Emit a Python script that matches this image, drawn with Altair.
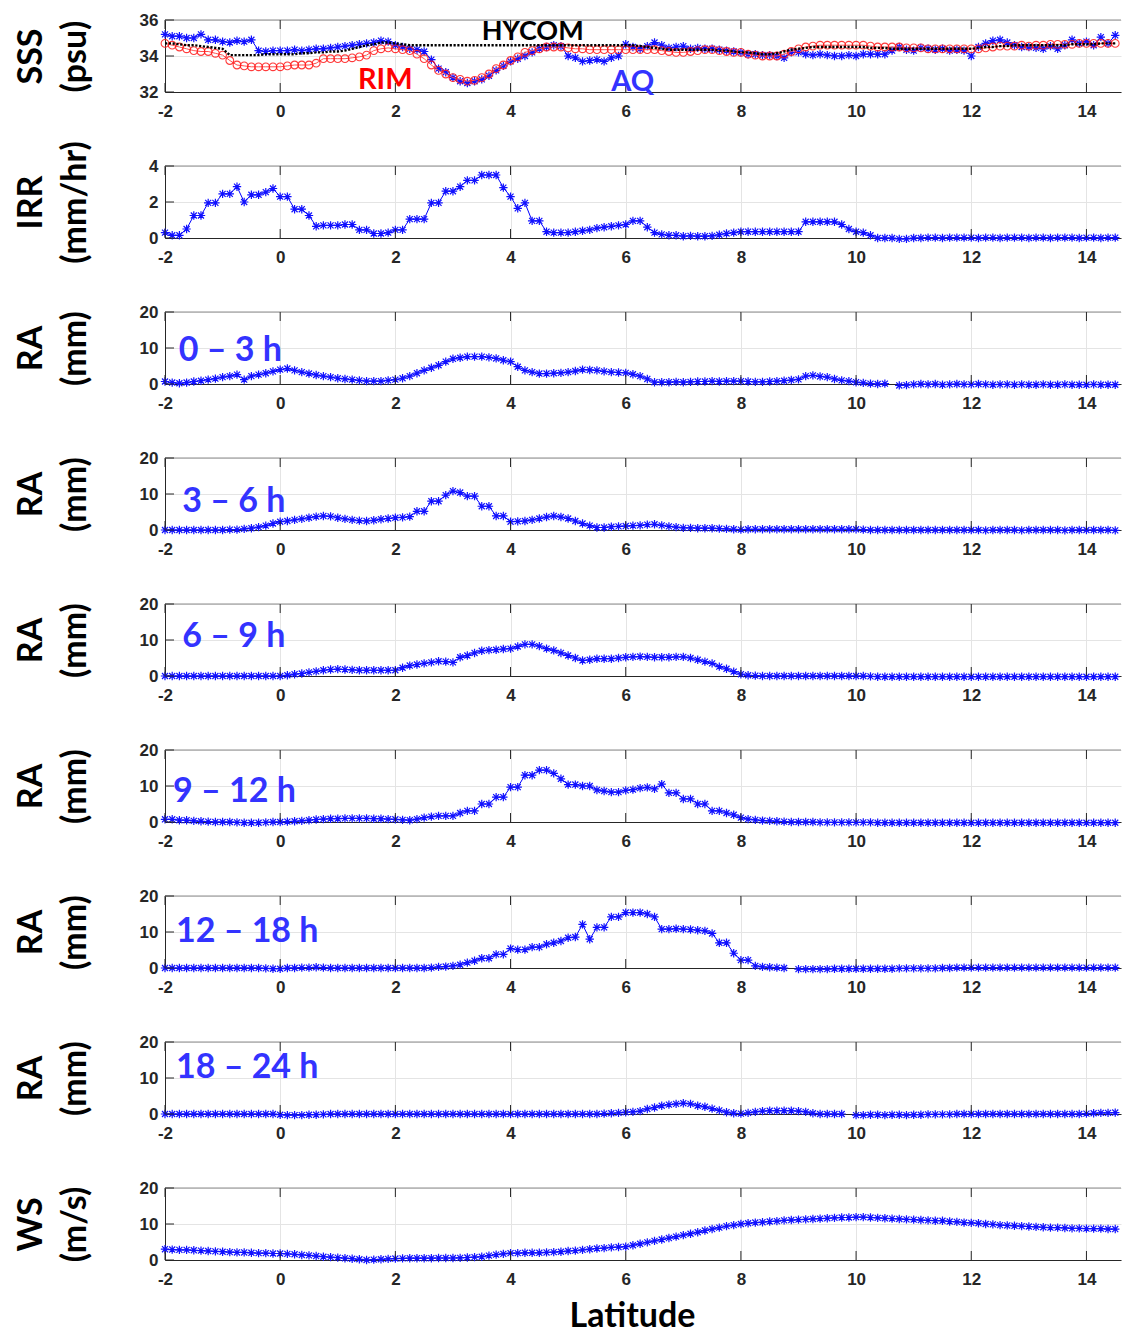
import altair as alt
import pandas as pd

# Latitude sampling of all series: starts at -2, every 0.125 degree
LAT0 = -2.0
DLAT = 0.125
XMAX = 14.6
XTICKS = [-2, 0, 2, 4, 6, 8, 10, 12, 14]

SSS_AQ = [
    35.2, 35.1, 35.1, 35.0, 35.0, 35.2, 34.9, 34.9, 34.8, 34.75, 34.85, 34.8, 34.9, 34.3, 34.25, 34.3,
    34.3, 34.3, 34.35, 34.3, 34.35, 34.4, 34.4, 34.45, 34.5, 34.55, 34.6, 34.65, 34.7, 34.75, 34.85, 34.8,
    34.6, 34.5, 34.4, 34.35, 34.25, 33.8, 33.3, 33.1, 32.8, 32.6, 32.5, 32.6, 32.7, 32.9, 33.2, 33.45,
    33.7, 33.85, 34.0, 34.2, 34.4, 34.5, 34.6, 34.55, 34.0, 33.9, 33.7, 33.75, 33.8, 33.7, 33.9, 34.0,
    34.65, 34.5, 34.4, 34.55, 34.75, 34.6, 34.45, 34.5, 34.55, 34.4, 34.45, 34.4, 34.4, 34.35, 34.3, 34.25,
    34.2, 34.1, 34.1, 34.05, 34.05, 34.0, 33.9, 34.2, 34.2, 34.1, 34.05, 34.1, 34.05, 34.0, 34.0, 34.05,
    34.0, 34.1, 34.1, 34.1, 34.1, 34.3, 34.5, 34.35, 34.3, 34.45, 34.4, 34.35, 34.4, 34.3, 34.35, 34.3,
    34.0, 34.5, 34.7, 34.85, 34.9, 34.75, 34.6, 34.5, 34.5, 34.45, 34.4, 34.55, 34.4, 34.6, 34.9, 34.7,
    34.8, 34.6, 35.05, 34.7, 35.15, 34.9, 34.8,
]
SSS_RIM = [
    34.7, 34.6, 34.5, 34.4, 34.3, 34.25, 34.25, 34.15, 34.05, 33.75, 33.5, 33.45, 33.4, 33.4, 33.4, 33.4,
    33.4, 33.45, 33.5, 33.5, 33.5, 33.6, 33.85, 33.85, 33.85, 33.85, 33.9, 33.95, 34.05, 34.3, 34.4, 34.45,
    34.4, 34.35, 34.3, 34.1, 33.85, 33.5, 33.2, 33.0, 32.8, 32.7, 32.6, 32.65, 32.8, 33.0, 33.3, 33.5,
    33.75, 33.95, 34.2, 34.3, 34.4, 34.5, 34.5, 34.5, 34.45, 34.4, 34.4, 34.35, 34.35, 34.35, 34.35, 34.35,
    34.35, 34.35, 34.35, 34.35, 34.35, 34.3, 34.25, 34.2, 34.2, 34.25, 34.3, 34.35, 34.35, 34.3, 34.25, 34.2,
    34.2, 34.1, 34.05, 34.0, 34.0, 34.0, 34.1, 34.25, 34.4, 34.5, 34.55, 34.6, 34.6, 34.6, 34.6, 34.6,
    34.6, 34.6, 34.55, 34.5, 34.5, 34.5, 34.5, 34.45, 34.45, 34.45, 34.4, 34.4, 34.4, 34.4, 34.4, 34.4,
    34.4, 34.4, 34.45, 34.5, 34.55, 34.55, 34.55, 34.6, 34.55, 34.6, 34.6, 34.65, 34.65, 34.65, 34.65, 34.7,
    34.7, 34.7, 34.7, 34.7, 34.7, 34.7, 34.7,
]
SSS_HYCOM = [
    34.7, 34.7, 34.65, 34.6, 34.6, 34.55, 34.5, 34.45, 34.4, 34.05, 34.05, 34.05, 34.05, 34.05, 34.1, 34.1,
    34.1, 34.1, 34.1, 34.15, 34.15, 34.2, 34.2, 34.25, 34.25, 34.3, 34.4, 34.5, 34.6, 34.65, 34.75, 34.75,
    34.7, 34.65, 34.6, 34.6, 34.6, 34.6, 34.6, 34.6, 34.6, 34.6, 34.6, 34.6, 34.6, 34.6, 34.6, 34.6,
    34.6, 34.6, 34.6, 34.6, 34.6, 34.6, 34.6, 34.6, 34.6, 34.6, 34.6, 34.6, 34.6, 34.6, 34.6, 34.6,
    34.6, 34.6, 34.55, 34.5, 34.45, 34.4, 34.35, 34.35, 34.35, 34.35, 34.35, 34.35, 34.35, 34.3, 34.3, 34.25,
    34.2, 34.2, 34.15, 34.1, 34.1, 34.15, 34.25, 34.35, 34.4, 34.45, 34.5, 34.5, 34.5, 34.5, 34.5, 34.5,
    34.5, 34.5, 34.45, 34.45, 34.45, 34.4, 34.4, 34.4, 34.4, 34.4, 34.4, 34.4, 34.4, 34.4, 34.4, 34.4,
    34.4, 34.45, 34.5, 34.5, 34.55, 34.55, 34.6, 34.6, 34.6, 34.6, 34.6, 34.6, 34.6, 34.6, 34.65, 34.65,
    34.65, 34.65, 34.7, 34.7, 34.7, 34.7, 34.7,
]
IRR = [
    0.3, 0.15, 0.15, 0.5, 1.25, 1.25, 1.95, 1.95, 2.45, 2.45, 2.85, 2.0, 2.4, 2.4, 2.55, 2.75,
    2.3, 2.3, 1.6, 1.6, 1.25, 0.65, 0.7, 0.7, 0.7, 0.75, 0.75, 0.45, 0.45, 0.25, 0.25, 0.3,
    0.45, 0.45, 1.05, 1.05, 1.05, 1.95, 1.95, 2.6, 2.6, 2.85, 3.2, 3.2, 3.5, 3.5, 3.5, 2.8,
    2.3, 1.65, 1.95, 0.95, 0.95, 0.35, 0.3, 0.3, 0.3, 0.35, 0.4, 0.45, 0.55, 0.6, 0.65, 0.7,
    0.75, 0.95, 0.95, 0.6, 0.3, 0.2, 0.15, 0.15, 0.1, 0.12, 0.1, 0.1, 0.12, 0.18, 0.25, 0.3,
    0.35, 0.35, 0.35, 0.35, 0.35, 0.35, 0.35, 0.35, 0.35, 0.9, 0.9, 0.9, 0.9, 0.9, 0.75, 0.5,
    0.35, 0.3, 0.15, 0.0, 0.0, 0.0, -0.05, -0.05, 0.0, 0.0, 0.02, 0.02, 0.0, 0.02, 0.02, 0.02,
    0.02, 0.0, 0.02, 0.02, 0.0, 0.02, 0.02, 0.02, 0.0, 0.02, 0.02, 0.0, 0.02, 0.02, 0.02, 0.0,
    0.02, 0.02, 0.0, 0.02, 0.02, 0.02, 0.0,
]
RA_0_3 = [
    0.7, 0.4, 0.2, 0.4, 0.7, 0.9, 1.2, 1.5, 1.9, 2.2, 2.6, 1.2, 2.2, 2.6, 3.0, 3.5,
    4.0, 4.3, 3.8, 3.3, 2.9, 2.5, 2.2, 1.9, 1.6, 1.4, 1.2, 1.0, 0.8, 0.8, 0.8, 1.0,
    1.2, 1.6, 2.2, 3.0, 3.8, 4.5, 5.2, 6.2, 7.0, 7.3, 7.6, 7.6, 7.6, 7.4, 7.1, 6.6,
    6.2, 4.8, 3.8, 3.3, 2.9, 2.9, 3.0, 3.1, 3.3, 3.6, 4.0, 3.9, 3.8, 3.5, 3.3, 3.2,
    3.1, 2.7, 2.2, 1.4, 0.5, 0.5, 0.5, 0.6, 0.5, 0.6, 0.7, 0.7, 0.8, 0.7, 0.8, 0.8,
    0.8, 0.7, 0.6, 0.6, 0.7, 0.8, 0.9, 1.1, 1.3, 2.2, 2.4, 2.1, 1.9, 1.4, 1.0, 0.8,
    0.5, 0.3, 0.1, 0.0, 0.1, None, -0.4, -0.3, -0.1, 0.0, -0.1, 0.0, -0.2, -0.1, 0.0, -0.1,
    -0.1, 0.0, -0.1, -0.2, -0.1, -0.1, -0.2, -0.1, -0.2, -0.2, -0.1, -0.2, -0.2, -0.1, -0.2, -0.2,
    -0.2, -0.1, -0.2, -0.2, -0.2, -0.2, -0.2,
]
RA_3_6 = [
    0.0, 0.0, 0.0, 0.0, 0.0, 0.0, 0.0, 0.0, 0.0, 0.1, 0.1, 0.3, 0.5, 0.8, 1.2, 1.8,
    2.3, 2.5, 2.8, 3.1, 3.4, 3.7, 3.9, 3.8, 3.4, 3.1, 2.8, 2.6, 2.5, 2.7, 3.0, 3.2,
    3.4, 3.5, 3.7, 5.2, 5.2, 8.0, 8.0, 9.7, 10.8, 10.4, 9.4, 9.4, 6.6, 6.6, 3.9, 3.9,
    2.3, 2.4, 2.5, 2.8, 3.2, 3.6, 3.9, 3.6, 3.2, 2.5, 1.8, 1.2, 0.7, 0.7, 0.9, 1.0,
    1.1, 1.2, 1.3, 1.5, 1.6, 1.3, 1.0, 0.8, 0.6, 0.6, 0.5, 0.5, 0.5, 0.4, 0.3, 0.2,
    0.1, 0.2, 0.2, 0.2, 0.2, 0.2, 0.2, 0.2, 0.2, 0.2, 0.2, 0.2, 0.2, 0.2, 0.2, 0.2,
    0.2, 0.1, 0.0, 0.0, 0.0, 0.0, 0.0, 0.0, 0.0, 0.0, 0.0, 0.0, 0.0, 0.0, 0.0, 0.0,
    0.0, 0.0, -0.1, 0.0, 0.0, 0.0, 0.0, -0.1, 0.0, 0.0, 0.0, 0.0, 0.0, -0.1, 0.0, 0.0,
    0.0, 0.0, 0.0, 0.0, -0.1, 0.0, 0.0,
]
RA_6_9 = [
    0.0, 0.0, 0.0, 0.0, 0.0, 0.0, 0.0, 0.0, 0.0, 0.0, 0.0, 0.0, 0.0, 0.0, 0.0, 0.0,
    0.0, 0.2, 0.5, 0.7, 1.0, 1.3, 1.6, 1.8, 1.9, 1.8, 1.7, 1.6, 1.6, 1.6, 1.6, 1.6,
    1.6, 2.3, 2.9, 3.2, 3.5, 3.8, 4.1, 4.0, 3.8, 5.2, 5.7, 6.4, 7.0, 7.2, 7.3, 7.5,
    7.6, 8.2, 8.8, 8.8, 8.3, 7.6, 7.1, 6.4, 5.7, 5.0, 4.3, 4.5, 4.8, 4.8, 4.8, 5.0,
    5.2, 5.3, 5.4, 5.3, 5.2, 5.2, 5.2, 5.3, 5.3, 5.0, 4.5, 4.0, 3.5, 2.6, 2.0, 1.2,
    0.5, 0.2, 0.1, 0.0, 0.0, 0.0, 0.0, 0.0, 0.0, 0.0, 0.0, 0.0, 0.0, 0.0, 0.0, 0.0,
    0.0, 0.0, -0.1, -0.2, -0.2, -0.2, -0.2, -0.2, -0.2, -0.2, -0.2, -0.2, -0.2, -0.2, -0.2, -0.2,
    -0.2, -0.2, -0.2, -0.2, -0.2, -0.2, -0.2, -0.2, -0.2, -0.2, -0.2, -0.2, -0.2, -0.2, -0.2, -0.2,
    -0.2, -0.2, -0.2, -0.2, -0.2, -0.2, -0.2,
]
RA_9_12 = [
    0.75, 0.75, 0.5, 0.5, 0.3, 0.2, 0.1, 0.0, 0.0, 0.0, -0.1, -0.2, -0.2, -0.2, -0.1, 0.0,
    0.0, 0.1, 0.2, 0.3, 0.5, 0.7, 0.8, 0.9, 0.9, 1.0, 1.0, 1.0, 1.0, 0.9, 0.9, 0.8,
    0.75, 0.6, 0.5, 0.8, 1.2, 1.5, 1.7, 1.7, 1.7, 2.5, 3.1, 3.1, 5.0, 5.0, 6.9, 6.9,
    9.7, 9.7, 13.0, 13.0, 14.4, 14.4, 13.5, 12.0, 10.4, 10.4, 10.0, 10.0, 8.9, 8.6, 8.3, 8.3,
    8.8, 9.0, 9.4, 9.6, 9.2, 10.5, 8.1, 8.1, 6.4, 6.4, 5.0, 5.0, 3.1, 3.1, 2.5, 2.0,
    1.2, 0.8, 0.6, 0.4, 0.3, 0.2, 0.1, 0.0, 0.0, 0.0, 0.0, -0.1, -0.1, -0.1, -0.1, -0.1,
    -0.1, -0.1, -0.1, -0.2, -0.2, -0.2, -0.2, -0.2, -0.2, -0.2, -0.2, -0.2, -0.2, -0.2, -0.2, -0.2,
    -0.2, -0.2, -0.2, -0.2, -0.2, -0.2, -0.2, -0.2, -0.2, -0.2, -0.2, -0.2, -0.2, -0.2, -0.2, -0.2,
    -0.2, -0.2, -0.2, -0.2, -0.2, -0.2, -0.2,
]
RA_12_18 = [
    0.0, 0.0, 0.0, 0.0, 0.0, 0.0, 0.0, 0.0, 0.0, 0.0, 0.0, 0.0, 0.0, 0.0, -0.1, -0.2,
    -0.2, 0.0, 0.0, 0.1, 0.1, 0.2, 0.1, 0.0, 0.0, 0.0, 0.0, 0.0, 0.0, 0.0, 0.0, 0.0,
    0.0, 0.0, 0.0, 0.0, 0.0, 0.1, 0.3, 0.4, 0.6, 0.9, 1.5, 2.0, 2.7, 2.7, 3.8, 3.8,
    5.4, 5.1, 5.1, 5.8, 5.8, 6.6, 7.0, 7.5, 8.4, 8.6, 12.1, 8.0, 11.3, 11.3, 14.2, 14.2,
    15.4, 15.4, 15.4, 15.0, 14.2, 10.8, 10.8, 10.9, 10.8, 10.7, 10.5, 10.3, 9.6, 7.0, 7.0, 4.1,
    2.2, 2.2, 0.6, 0.3, 0.2, 0.1, 0.0, None, -0.3, -0.3, -0.3, -0.3, -0.3, -0.2, -0.2, -0.2,
    -0.2, -0.2, -0.2, -0.2, -0.2, -0.2, -0.1, -0.1, -0.1, -0.1, -0.1, -0.1, 0.0, 0.0, 0.1, 0.1,
    0.1, 0.1, 0.1, 0.1, 0.1, 0.1, 0.1, 0.1, 0.1, 0.1, 0.1, 0.1, 0.1, 0.1, 0.1, 0.1,
    0.1, 0.1, 0.1, 0.1, 0.1, 0.1, 0.1,
]
RA_18_24 = [
    0.0, 0.0, 0.0, 0.0, 0.0, 0.0, 0.0, 0.0, 0.0, 0.0, 0.0, 0.0, 0.0, 0.0, 0.0, 0.0,
    -0.2, -0.3, -0.3, -0.3, -0.2, -0.2, -0.1, 0.0, 0.0, 0.0, 0.0, 0.0, 0.0, 0.0, 0.0, 0.0,
    0.0, 0.0, 0.0, 0.0, 0.0, 0.0, 0.0, 0.0, 0.0, 0.0, 0.0, 0.0, 0.0, 0.0, 0.0, 0.0,
    0.0, 0.0, 0.0, 0.0, 0.0, 0.0, 0.0, 0.0, 0.0, 0.0, 0.0, 0.0, 0.0, 0.1, 0.2, 0.3,
    0.5, 0.6, 0.8, 1.4, 1.8, 2.3, 2.6, 2.8, 3.0, 2.8, 2.3, 2.0, 1.5, 1.0, 0.5, 0.2,
    0.1, 0.3, 0.6, 0.8, 0.9, 0.9, 0.9, 0.9, 0.8, 0.6, 0.2, 0.0, 0.0, 0.0, 0.0, None,
    -0.3, -0.3, -0.2, -0.2, -0.3, -0.2, -0.2, -0.3, -0.2, -0.2, -0.1, -0.1, -0.1, -0.1, 0.0, 0.0,
    0.0, 0.0, 0.0, 0.0, 0.0, 0.0, 0.0, 0.0, 0.0, 0.0, 0.0, 0.0, 0.0, 0.0, 0.0, 0.0,
    0.1, 0.2, 0.3, 0.3, 0.4, 0.5, 0.5,
]
WS = [
    3.0, 2.9, 2.8, 2.8, 2.7, 2.6, 2.5, 2.4, 2.3, 2.2, 2.1, 2.1, 2.0, 1.9, 1.9, 1.8,
    1.8, 1.7, 1.6, 1.4, 1.3, 1.1, 0.9, 0.8, 0.65, 0.5, 0.35, 0.2, 0.0, 0.1, 0.2, 0.3,
    0.4, 0.45, 0.5, 0.5, 0.5, 0.5, 0.55, 0.55, 0.55, 0.6, 0.7, 0.8, 0.9, 1.2, 1.5, 1.7,
    1.9, 1.9, 2.0, 2.0, 2.0, 2.1, 2.2, 2.3, 2.5, 2.6, 2.8, 3.0, 3.2, 3.3, 3.5, 3.6,
    3.7, 4.1, 4.5, 4.9, 5.3, 5.7, 6.1, 6.5, 6.9, 7.3, 7.7, 8.2, 8.6, 9.0, 9.4, 9.7,
    10.0, 10.2, 10.4, 10.5, 10.7, 10.8, 11.0, 11.1, 11.2, 11.3, 11.4, 11.5, 11.6, 11.7, 11.8, 11.8,
    11.9, 11.9, 11.8, 11.7, 11.6, 11.5, 11.4, 11.3, 11.2, 11.1, 11.0, 10.9, 10.9, 10.7, 10.6, 10.4,
    10.3, 10.2, 10.0, 9.9, 9.7, 9.6, 9.5, 9.4, 9.3, 9.2, 9.1, 9.0, 9.0, 8.9, 8.8, 8.8,
    8.7, 8.7, 8.7, 8.6, 8.6, 8.6, 8.6,
]

# Labels drawn inside the panels: (text, lat, value, colour, font size)
SSS_LABELS = [("HYCOM", 3.5, 35.35, "#000000", 27), ("RIM", 1.35, 32.65, "#ff0000", 29),
              ("AQ", 5.75, 32.55, "#3333ff", 29)]
RA_LABELS = ["0 \u2013 3 h", "3 \u2013 6 h", "6 \u2013 9 h", "9 \u2013 12 h", "12 \u2013 18 h", "18 \u2013 24 h"]
RA_LABEL_POS = [(-1.76, 9.3), (-1.7, 7.9), (-1.7, 10.7), (-1.86, 8.45), (-1.81, 10.1), (-1.81, 12.7)]

W = 956
H = 72
BLUE = "#0000ff"
TXT_BLUE = "#3333ff"
DARK = "#262626"
STAR = "M-1,0L1,0M0,-1L0,1M-0.72,-0.72L0.72,0.72M-0.72,0.72L0.72,-0.72"
TITLE_FONT = "Lato"
LABEL_FONT = "Liberation Sans"


def series_df(vals):
    rows = []
    seg = 0
    for i, v in enumerate(vals):
        x = LAT0 + DLAT * i
        if v is None:
            seg += 1
            continue
        if x > XMAX + 1e-9:
            continue
        rows.append({"lat": x, "val": v, "seg": seg})
    return pd.DataFrame(rows)


def panel(series, ydom, yticks, title_lines, texts, last=False):
    xs = alt.Scale(domain=[-2, XMAX], nice=False, zero=False)
    ys = alt.Scale(domain=ydom, nice=False, zero=False)
    xaxis_kw = dict(
        values=XTICKS, labelExpr="'' + datum.value", labelFont=LABEL_FONT,
        labelFontWeight="bold", labelFontSize=17, labelColor=DARK, labelPadding=11,
        labelFlush=False, ticks=False, domainColor=DARK, domainWidth=1, grid=True,
        gridColor="#e4e4e4", gridWidth=1,
    )
    if last:
        xaxis = alt.Axis(title="Latitude", titleFont=TITLE_FONT, titleFontSize=34,
                         titleFontWeight="bold", titleColor="#000000", titleX=467,
                         titleY=56, titleAlign="center", titleBaseline="middle",
                         **xaxis_kw)
    else:
        xaxis = alt.Axis(title=None, **xaxis_kw)
    yaxis = alt.Axis(
        values=yticks, labelFont=LABEL_FONT, labelFontWeight="bold", labelFontSize=17,
        labelColor=DARK, labelPadding=7, labelFlush=False, ticks=False, domainColor=DARK,
        domainWidth=1, grid=True, gridColor="#e4e4e4", gridWidth=1,
        title=title_lines, titleFont=TITLE_FONT, titleFontSize=34, titleFontWeight="bold",
        titleColor="#000000", titleAngle=270, titleX=-134, titleY=H / 2,
        titleAlign="center", titleBaseline="middle", titleLineHeight=44,
    )

    def X(field):
        return alt.X(field, scale=xs, axis=xaxis)

    def Y(field):
        return alt.Y(field, scale=ys, axis=yaxis)

    layers = []
    for s in series:
        df = series_df(s["vals"])
        line_kw = dict(color=s["line"], strokeWidth=s.get("lw", 1), opacity=s.get("lop", 1))
        if "dash" in s:
            line_kw["strokeDash"] = s["dash"]
        line = alt.Chart(df).mark_line(**line_kw).encode(
            x=X("lat:Q"), y=Y("val:Q"), detail="seg:N")
        layers.append(line)
        if s.get("shape"):
            pts = alt.Chart(df).mark_point(shape=s["shape"], filled=s.get("filled", False),
                                           size=s["size"], color=s["mk"], strokeWidth=s.get("mw", 1),
                                           opacity=s.get("mop", 1)).encode(
                x=X("lat:Q"), y=Y("val:Q"))
            layers.append(pts)

    tdf = pd.DataFrame({"t": XTICKS})
    ydf = pd.DataFrame({"t": yticks})
    top_border = alt.Chart(tdf.head(1)).mark_rule(color="#8c8c8c", strokeWidth=1).encode(
        x=alt.value(0), x2=alt.value(W), y=alt.value(0))
    xt_top = alt.Chart(tdf).mark_rule(color=DARK, strokeWidth=1).encode(
        x=X("t:Q"), y=alt.value(0), y2=alt.value(9))
    xt_bot = alt.Chart(tdf).mark_rule(color=DARK, strokeWidth=1).encode(
        x=X("t:Q"), y=alt.value(H - 9), y2=alt.value(H))
    yt = alt.Chart(ydf).mark_rule(color=DARK, strokeWidth=1).encode(
        y=Y("t:Q"), x=alt.value(0), x2=alt.value(9))
    layers += [top_border, xt_top, xt_bot, yt]

    for (txt, lx, ly, col, fs) in texts:
        tdf2 = pd.DataFrame({"lat": [lx], "val": [ly], "label": [txt]})
        layers.append(
            alt.Chart(tdf2).mark_text(align="left", baseline="middle", font=TITLE_FONT,
                                      fontWeight="bold", fontSize=fs, color=col).encode(
                x=X("lat:Q"), y=Y("val:Q"), text="label:N"))
    return alt.layer(*layers).properties(width=W, height=H)


AQ_STYLE = dict(line=BLUE, shape=STAR, size=70, mk="#1010ff", mw=1.2)
panels = []
panels.append(panel(
    [dict(vals=SSS_AQ, **AQ_STYLE),
     dict(vals=SSS_RIM, line="#ff5050", shape="circle", size=60, mk="#ff1a1a", mw=1.1, mop=0.85),
     dict(vals=SSS_HYCOM, line="#000000", lw=2.4, dash=[2.2, 1.6])],
    [32, 36], [32, 34, 36], ["SSS", "(psu)"], SSS_LABELS))
panels.append(panel([dict(vals=IRR, **AQ_STYLE)], [0, 4], [0, 2, 4], ["IRR", "(mm/hr)"], []))
for k, vals in enumerate([RA_0_3, RA_3_6, RA_6_9, RA_9_12, RA_12_18, RA_18_24]):
    lx, ly = RA_LABEL_POS[k]
    panels.append(panel([dict(vals=vals, **AQ_STYLE)], [0, 20], [0, 10, 20], ["RA", "(mm)"],
                        [(RA_LABELS[k], lx, ly, TXT_BLUE, 34)]))
panels.append(panel([dict(vals=WS, **AQ_STYLE)], [0, 20], [0, 10, 20], ["WS", "(m/s)"], [], last=True))

chart = alt.vconcat(*panels, spacing=74, bounds="flush").properties(
    padding={"left": 6, "top": 3, "right": 0, "bottom": 4},
    background="white",
).configure_view(stroke=None)

chart.save("out.html", embed_options={"renderer": "svg", "actions": False})
